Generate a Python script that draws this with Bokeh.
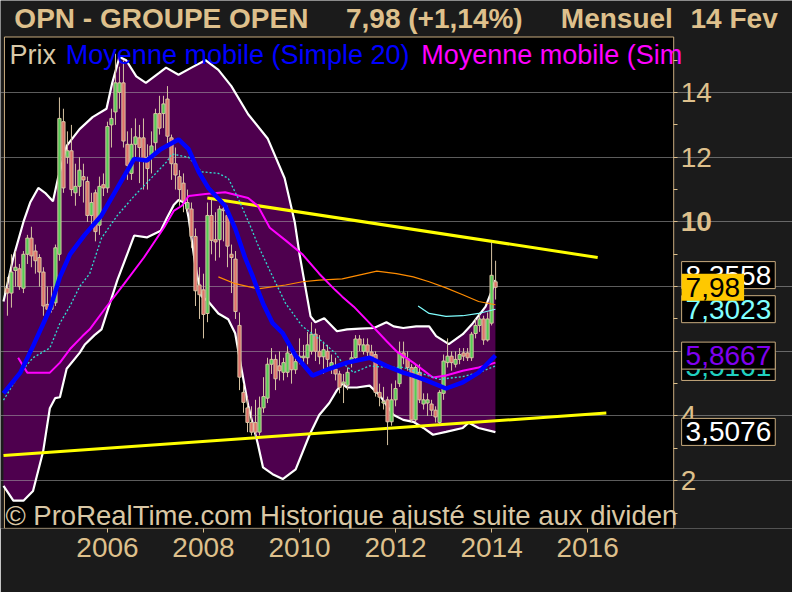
import pandas as pd
from bokeh.plotting import figure
from bokeh.models import Range1d, FixedTicker, Label, ColumnDataSource, LinearAxis
from bokeh.embed import file_html
from bokeh.resources import INLINE

# ---------------- data (monthly candles, Dec 2003 -> Feb 2014) ----------------
opens = [7.95, 7.8, 8.5, 8.55, 7.95, 9.0, 9.5, 9.1, 8.9, 8.45,
         7.45, 7.3, 7.5, 9.0, 13.1, 12.0, 12.2, 10.9, 11.1, 11.4,
         11.25, 10.2, 10.9, 9.9, 11.15, 11.05, 13.0, 13.4, 14.0, 14.3,
         12.4, 11.5, 12.4, 12.6, 12.6, 12.0, 12.05, 12.45, 13.35, 13.35,
         13.8, 12.6, 11.8, 11.4, 11.2, 10.4, 10.4, 9.55, 8.05, 7.9,
         7.17, 10.2, 9.45, 9.45, 10.4, 10.2, 9.0, 8.85, 6.8, 4.73,
         4.25, 3.8, 3.8, 3.5, 4.25, 4.55, 5.6, 5.75, 5.55, 5.35,
         5.35, 5.9, 5.43, 5.8, 5.8, 5.8, 6.0, 6.53, 6.0, 5.83,
         6.0, 5.5, 5.45, 5.3, 5.0, 4.95, 5.7, 5.8, 6.38, 6.0,
         6.2, 5.98, 5.9, 4.73, 4.4, 4.5, 3.82, 4.5, 5.0, 5.95,
         5.77, 5.5, 3.88, 5.35, 4.37, 4.4, 4.37, 4.18, 3.8, 4.7,
         5.65, 5.85, 5.6, 5.75, 5.95, 5.95, 5.8, 6.55, 6.8, 7.0,
         6.35, 6.87, 8.15]
highs = [8.3, 9.0, 9.1, 8.7, 9.1, 9.6, 9.85, 9.3, 9.0, 8.6,
         8.0, 8.0, 9.3, 13.85, 13.5, 12.8, 13.0, 11.8, 12.0, 11.8,
         11.4, 10.9, 11.0, 11.4, 11.5, 13.1, 13.5, 15.2, 14.8, 15.0,
         12.8, 12.9, 13.2, 13.0, 13.2, 12.4, 12.8, 13.5, 13.9, 13.9,
         14.2, 12.7, 12.3, 11.6, 11.5, 11.0, 10.6, 9.8, 8.6, 8.4,
         10.6, 10.7, 10.3, 10.5, 10.6, 10.5, 9.3, 9.1, 7.2, 5.0,
         4.6, 4.3, 4.5, 4.6, 5.2, 5.8, 6.1, 5.9, 6.0, 5.8,
         6.4, 6.0, 6.0, 6.4, 6.2, 6.6, 6.9, 6.7, 6.5, 6.3,
         6.2, 5.9, 5.8, 5.4, 5.3, 5.5, 6.0, 6.5, 6.5, 6.4,
         6.4, 6.2, 6.0, 5.0, 4.9, 4.6, 5.0, 5.1, 6.3, 6.3,
         6.0, 5.6, 5.6, 5.6, 4.7, 4.7, 4.5, 4.3, 4.8, 5.9,
         6.4, 6.0, 6.0, 6.1, 6.1, 6.1, 6.6, 7.0, 7.2, 7.1,
         7.2, 9.37, 8.8]
lows = [7.1, 7.35, 8.0, 7.9, 7.8, 8.7, 8.6, 8.4, 8.0, 7.1,
        7.0, 7.2, 7.4, 8.8, 10.9, 11.8, 10.8, 10.5, 10.8, 10.6,
        10.0, 9.8, 9.4, 9.6, 10.8, 10.9, 12.3, 13.0, 13.5, 12.3,
        11.3, 11.3, 12.0, 11.2, 11.0, 11.0, 11.5, 12.2, 12.7, 12.9,
        12.4, 11.3, 11.0, 10.5, 10.3, 10.3, 9.2, 7.4, 7.0, 6.4,
        6.9, 9.0, 8.8, 8.9, 9.4, 8.6, 7.8, 7.0, 4.8, 4.1,
        3.5, 3.4, 3.3, 3.4, 4.1, 4.4, 5.3, 4.8, 5.1, 5.1,
        5.2, 5.0, 5.3, 5.6, 5.5, 5.6, 5.9, 5.7, 5.6, 5.3,
        5.5, 5.3, 5.1, 4.7, 4.4, 4.8, 5.5, 5.7, 6.0, 5.9,
        5.8, 5.7, 4.6, 4.3, 4.2, 3.1, 3.7, 4.3, 4.9, 5.6,
        5.4, 3.8, 3.8, 4.4, 4.2, 4.0, 4.0, 3.8, 3.75, 4.5,
        5.5, 5.4, 5.5, 5.6, 5.7, 5.7, 5.7, 6.4, 6.6, 6.2,
        6.3, 6.8, 7.6]
closes = [7.8, 8.45, 8.6, 8.0, 9.0, 9.5, 8.95, 8.8, 8.45, 7.4,
          7.3, 7.45, 9.2, 13.2, 11.05, 12.2, 11.0, 11.1, 11.6, 11.3,
          10.2, 10.6, 9.7, 11.1, 11.05, 12.95, 13.2, 14.3, 14.3, 12.5,
          11.75, 12.4, 12.63, 12.3, 11.95, 11.65, 12.35, 13.35, 12.9, 13.65,
          12.65, 11.8, 11.45, 11.0, 10.65, 10.6, 9.55, 7.87, 7.75, 7.14,
          10.2, 9.43, 9.38, 10.4, 10.35, 9.25, 8.9, 7.23, 5.2, 4.42,
          3.8, 3.5, 3.5, 4.25, 4.6, 5.6, 5.75, 5.15, 5.4, 5.65,
          5.95, 5.43, 5.68, 5.85, 5.85, 6.2, 6.53, 6.0, 5.83, 6.05,
          5.75, 5.65, 5.3, 4.88, 5.05, 5.35, 5.8, 6.38, 6.2, 6.2,
          5.98, 5.85, 4.73, 4.58, 4.45, 3.82, 4.5, 4.85, 5.95, 5.8,
          5.5, 3.88, 5.5, 4.5, 4.5, 4.5, 4.18, 3.97, 4.73, 5.7,
          5.85, 5.65, 5.75, 5.9, 5.85, 5.8, 6.53, 6.8, 7.0, 6.35,
          7.0, 8.35, 7.98]

# indicator curves (decimal year, price)
bb_up_t = [2003.835, 2004.04, 2004.25, 2004.39, 2004.56, 2004.70, 2004.865, 2004.97, 2005.01, 2005.15,
           2005.42, 2005.69, 2005.98, 2006.10, 2006.25, 2006.39, 2006.60, 2006.80, 2007.07, 2007.22,
           2007.48, 2007.75, 2008.04, 2008.31, 2008.58, 2008.93, 2009.34, 2009.69, 2009.90, 2010.0,
           2010.12, 2010.23, 2010.33, 2010.515, 2010.78, 2010.99, 2011.26, 2011.55, 2011.81, 2011.96,
           2012.16, 2012.43, 2012.70, 2012.845, 2013.11, 2013.40, 2013.61, 2013.875, 2014.02, 2014.08]
bb_up_v = [7.54, 8.9, 10.0, 10.6, 11.05, 10.9, 10.64, 11.35, 11.55, 12.35,
           12.87, 13.24, 13.5, 14.3, 15.1, 15.0, 14.5, 14.3, 14.6, 14.77,
           14.55, 14.77, 15.0, 14.7, 14.2, 13.33, 12.57, 11.35, 10.0, 9.0,
           8.0, 7.08, 6.9, 7.02, 6.62, 6.68, 6.7, 6.72, 6.9, 6.77,
           6.72, 6.77, 6.77, 6.47, 6.22, 6.53, 6.87, 7.38, 7.93, 8.2]
bb_lo_t = [2003.835, 2004.04, 2004.25, 2004.45, 2004.66, 2004.80, 2004.91, 2005.01, 2005.15, 2005.42,
           2005.525, 2005.73, 2005.876, 2006.206, 2006.41, 2006.556, 2006.82, 2007.11, 2007.24, 2007.38,
           2007.48, 2007.63, 2007.69, 2007.835, 2007.96, 2008.10, 2008.31, 2008.515, 2008.66, 2008.78,
           2008.93, 2009.07, 2009.13, 2009.24, 2009.44, 2009.65, 2009.92, 2010.21, 2010.41, 2010.62,
           2010.78, 2010.89, 2010.99, 2011.195, 2011.46, 2011.67, 2011.96, 2012.16, 2012.37, 2012.58,
           2012.78, 2013.05, 2013.40, 2013.525, 2013.73, 2014.08]
bb_lo_v = [1.84, 1.38, 1.38, 1.68, 2.9, 4.24, 4.55, 4.58, 5.46, 5.95,
           6.2, 6.5, 6.68, 8.2, 9.0, 9.58, 9.52, 9.73, 10.13, 10.52,
           10.68, 10.58, 10.13, 8.6, 7.7, 7.54, 7.17, 6.99, 6.56, 5.55,
           4.33, 3.5, 3.15, 2.41, 2.2, 2.05, 2.35, 3.42, 4.03, 4.4,
           4.8, 5.0, 4.88, 4.88, 4.94, 4.64, 4.03, 3.88, 3.82, 3.63,
           3.42, 3.51, 3.63, 3.79, 3.63, 3.5]

ma20_t = [2003.835, 2004.185, 2004.45, 2004.80, 2005.01, 2005.22, 2005.525, 2005.876, 2006.206, 2006.556,
          2006.82, 2007.11, 2007.48, 2007.69, 2007.90, 2008.10, 2008.45, 2008.66, 2008.865, 2009.03,
          2009.13, 2009.24, 2009.44, 2009.65, 2009.92, 2010.27, 2010.62, 2010.99, 2011.46, 2011.81,
          2012.16, 2012.37, 2012.64, 2013.05, 2013.40, 2013.73, 2014.08]
ma20_v = [4.7, 5.34, 6.16, 7.3, 8.3, 9.0, 9.6, 10.2, 11.05, 11.95,
          11.9, 12.25, 12.55, 12.25, 11.55, 11.05, 10.5, 9.8, 8.9, 8.3,
          7.9, 7.48, 6.87, 6.56, 5.86, 5.25, 5.46, 5.65, 5.8, 5.55,
          5.34, 5.25, 5.1, 4.85, 5.04, 5.34, 5.87]
ma_cy_t = [2003.835, 2004.185, 2004.45, 2004.80, 2005.01, 2005.22, 2005.42, 2005.63, 2005.876, 2006.206,
           2006.556, 2006.91, 2007.24, 2007.34, 2007.69, 2007.96, 2008.31, 2008.515, 2008.72, 2008.99,
           2009.13, 2009.38, 2009.71, 2010.06, 2010.41, 2010.74, 2010.89, 2011.13, 2011.46, 2011.81,
           2012.16, 2012.49, 2012.91, 2013.40, 2013.73, 2014.08]
ma_cy_v = [4.49, 5.34, 5.8, 6.1, 6.87, 7.4, 8.0, 8.4, 9.5, 10.2,
           10.8, 11.35, 11.87, 12.1, 12.0, 11.55, 11.5, 11.35, 10.74, 9.82,
           9.3, 8.5, 7.48, 6.77, 6.38, 5.95, 5.65, 5.34, 5.55, 5.5,
           5.5, 5.34, 5.13, 5.22, 5.34, 5.55]
ma_mg_t = [2004.14, 2004.33, 2004.60, 2004.80, 2005.01, 2005.22, 2005.48, 2005.63, 2005.94, 2006.35,
           2006.76, 2007.175, 2007.38, 2007.55, 2007.69, 2008.04, 2008.45, 2008.93, 2009.13, 2009.38,
           2009.71, 2010.06, 2010.41, 2010.74, 2010.89, 2011.13, 2011.46, 2011.81, 2012.02, 2012.37,
           2012.78, 2013.05, 2013.40, 2013.73, 2014.08]
ma_mg_v = [5.8, 5.34, 5.34, 5.34, 5.65, 6.07, 6.47, 6.68, 7.3, 8.09,
           8.9, 9.82, 10.34, 10.5, 10.8, 10.86, 10.92, 10.74, 10.5, 9.82,
           9.43, 9.0, 8.4, 7.9, 7.69, 7.38, 6.87, 6.32, 6.0, 5.65,
           5.19, 5.25, 5.4, 5.5, 5.65]
ma_or_t = [2008.31, 2008.66, 2009.13, 2009.71, 2010.06, 2010.41, 2010.89, 2011.61, 2012.02, 2012.37,
           2012.70, 2013.05, 2013.40, 2013.73, 2014.08]
ma_or_v = [8.3, 8.09, 7.93, 8.05, 8.15, 8.2, 8.24, 8.48, 8.4, 8.3,
           8.15, 7.96, 7.75, 7.54, 7.44]
ma_lc_t = [2012.47, 2012.70, 2013.05, 2013.40, 2013.73, 2014.08]
ma_lc_v = [7.4, 7.17, 7.08, 7.1, 7.17, 7.3]

res_t = [2008.08, 2016.21]
res_v = [10.74, 8.9]
sup_t = [2003.835, 2016.39]
sup_v = [2.78, 4.09]

price_ticks = [2, 4, 6, 8, 10, 12, 14]
price_minor = [1, 3, 5, 7, 9, 11, 13, 15]
year_ticks = [2006, 2008, 2010, 2012, 2014, 2016]

boxes = [  # (text, value, text colour, fill)
    ("8,3558", 8.3558, "#ffffff", "black"),
    ("7,3023", 7.3023, "#80ffff", "black"),
    ("7,98", 7.98, "black", "#ffc800"),
    ("5,5161", 5.5161, "#20d0c0", "black"),
    ("5,8667", 5.8667, "#8000f0", "black"),
    ("3,5076", 3.5076, "#ffffff", "black"),
]

# ---------------- geometry / styling ----------------
BG = "#1b1b1b"
TAN = "#dec08c"
OUTLINE = "#c8ab7e"
FONT = "Liberation Sans"

W, H = 792, 592
SX, SY = W / 800, H / 600          # reference pixels -> figure pixels
PX_YEAR = 48.5                      # reference px per year
T_REF0 = 2003.9167 - 7 / PX_YEAR    # year at reference x = 0
PX_UNIT = 32.78                     # reference px per price unit
Y_REF14 = 93.3                      # reference y of price 14

def t_at(rx):
    return T_REF0 + rx / PX_YEAR

def v_at(ry):
    return 14 - (ry - Y_REF14) / PX_UNIT

BOTTOM = 64
FRAME_H = H - BOTTOM
X0, X1 = t_at(0), t_at(800)
Y0, Y1 = v_at(FRAME_H / SY), v_at(0)
CH_L, CH_R = t_at(4), t_at(680)      # chart box
CH_B, CH_T = v_at(535), v_at(37)

p = figure(width=W, height=H, output_backend="svg", toolbar_location=None,
           x_range=Range1d(X0, X1), y_range=Range1d(Y0, Y1),
           y_axis_location=None, title=None,
           min_border_left=0, min_border_right=0, min_border_top=0, min_border_bottom=BOTTOM)
p.background_fill_color = BG
p.border_fill_color = BG
p.outline_line_color = None
p.xgrid.visible = False
p.ygrid.visible = False

xa = p.xaxis[0]
xa.ticker = FixedTicker(ticks=year_ticks)
xa.axis_line_color = None
xa.major_tick_in = 0
xa.major_tick_out = 4
xa.minor_tick_line_color = None
xa.major_tick_line_color = TAN
xa.major_label_standoff = 5
xa.major_label_text_font = FONT
xa.major_label_text_font_size = "28px"
xa.major_label_text_color = TAN

# chart box
p.quad(left=[CH_L], right=[CH_R], bottom=[CH_B], top=[CH_T],
       fill_color="black", line_color=OUTLINE, line_width=1)

# price axis on the right edge of the chart box
ya = LinearAxis(fixed_location=CH_R)
ya.ticker = FixedTicker(ticks=price_ticks, minor_ticks=price_minor)
ya.major_label_overrides = {10: ""}
ya.axis_line_color = None
ya.major_tick_in = 0
ya.major_tick_out = 4
ya.minor_tick_in = 0
ya.minor_tick_out = 4
ya.major_tick_line_color = TAN
ya.minor_tick_line_color = TAN
ya.major_label_standoff = 3
ya.major_label_text_font = FONT
ya.major_label_text_font_size = "28px"
ya.major_label_text_color = TAN
p.add_layout(ya, "right")

# Bollinger band area
p.patch(bb_up_t + bb_lo_t[::-1], bb_up_v + bb_lo_v[::-1],
        fill_color="#4e004e", line_color=None)
p.hspan(y=price_ticks, line_color="#a8a8a8", line_alpha=0.55, line_width=1)
p.line(bb_up_t, bb_up_v, line_color="white", line_width=2.2)
p.line(bb_lo_t, bb_lo_v, line_color="white", line_width=2.2)

# trend lines
p.line(res_t, res_v, line_color="#ffff00", line_width=3)
p.line(sup_t, sup_v, line_color="#ffff00", line_width=3)

# candles
months = pd.date_range("2003-12-01", periods=len(closes), freq="MS")
t = [d.year + (d.month - 1) / 12 for d in months]
src = ColumnDataSource(dict(
    t=t, o=opens, h=highs, l=lows, c=closes,
    top=[max(a, b) for a, b in zip(opens, closes)],
    bot=[min(a, b) for a, b in zip(opens, closes)],
    col=["#55cc55" if c >= o else "#e0716a" for o, c in zip(opens, closes)],
))
WICK = "#d6c3a2"
p.segment(x0="t", y0="l", x1="t", y1="h", source=src, line_color=WICK, line_width=1)
p.vbar(x="t", width=0.8 / 12, top="top", bottom="bot", source=src,
       fill_color="col", line_color=WICK, line_width=1)

# moving averages
p.line(ma_or_t, ma_or_v, line_color="#ff8c00", line_width=1.2)
p.line(ma_lc_t, ma_lc_v, line_color="#80ffff", line_width=1.2)
p.line(ma_mg_t, ma_mg_v, line_color="#ff00ff", line_width=2)
p.line(ma_cy_t, ma_cy_v, line_color="#30dcd0", line_width=1.3, line_dash="2 2")
p.line(ma20_t, ma20_v, line_color="#0000ff", line_width=4.5)

# ---------------- texts ----------------
def lab(text, rx, y, color, size="27px", bold=False, **kw):
    p.add_layout(Label(x=rx * SX, y=y, x_units="screen", y_units="data", text=text,
                       text_color=color, text_font=FONT, text_font_size=size,
                       text_font_style="bold" if bold else "normal",
                       text_baseline="middle", **kw))

ty = v_at(18)
lab("OPN - GROUPE OPEN", 14, ty, TAN, "28px", True)
lab("7,98 (+1,14%)", 349, ty, TAN, "28px", True)
lab("Mensuel", 566, ty, TAN, "28px", True)
lab("14 Fev", 697, ty, TAN, "28px", True)

ly = v_at(55)
lab("Prix", 9, ly, "#d8c9a8")
lab("Moyenne mobile (Simple 20)", 66, ly, "#0000ff")
lab("Moyenne mobile (Sim", 425, ly, "#ff00ff")

lab("© ProRealTime.com Historique ajusté suite aux dividen", 5, v_at(522), "#d9c7a5", "27.5px")

lab("10", 687, 10, TAN, "28px", True)

for txt, val, col, fill in boxes:
    lab(txt, 688, val, col, "28px", False, background_fill_color=fill,
        border_line_color=OUTLINE if fill == "black" else None, padding=4)

open("out.html", "w").write(file_html(p, INLINE))
